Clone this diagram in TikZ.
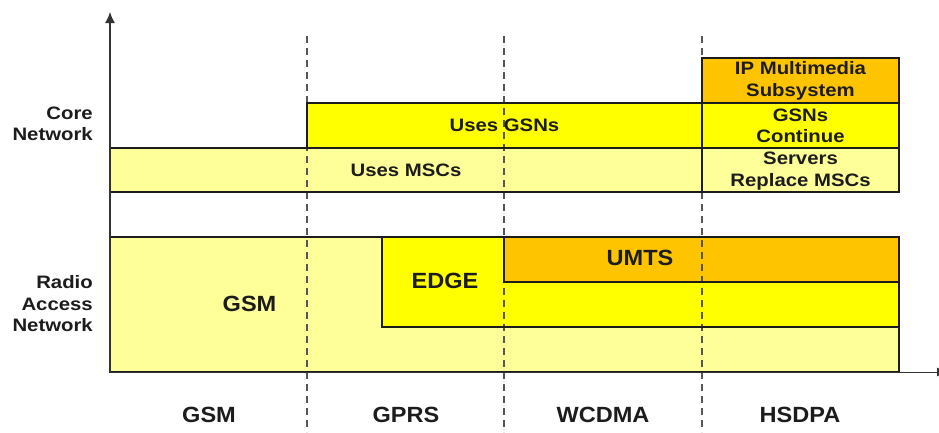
\documentclass[tikz,border=0pt]{standalone}
\usepackage{fontspec}
\setmainfont{Liberation Sans}[FakeStretch=1.07]
\newfontfamily\narrowlabel{Liberation Sans}[FakeStretch=1.13]
\usetikzlibrary{arrows.meta}

\definecolor{paleyellow}{HTML}{FFFF99}
\definecolor{brightyellow}{HTML}{FFFF00}
\definecolor{amber}{HTML}{FFC400}
\definecolor{inkdark}{HTML}{1C1C1C}
\definecolor{axisgray}{HTML}{333333}
\definecolor{dashgray}{HTML}{555555}

\begin{document}
\begin{tikzpicture}[x=1pt,y=-1pt,
  band/.style={anchor=north west, inner sep=0pt, outer sep=0pt, draw=none},
  boxline/.style={draw=inkdark, line width=1.5pt},
  era/.style={draw=dashgray, line width=1.2pt, dash pattern=on 7pt off 5pt},
  axisline/.style={draw=axisgray, line width=1.3pt},
  lbl/.style={inner sep=0pt, text=inkdark, align=center,
    font=\narrowlabel\bfseries\fontsize{18}{21.5}\selectfont},
  sidelbl/.style={inner sep=0pt, text=inkdark, align=right, anchor=east,
    font=\narrowlabel\bfseries\fontsize{18}{21.5}\selectfont},
  biglbl/.style={inner sep=0pt, text=inkdark,
    font=\bfseries\fontsize{22}{26}\selectfont},
]
% canvas
\path[use as bounding box, fill=white] (0,0) rectangle (939,432);

% core network bands
\node[band, fill=paleyellow,   minimum width=592pt, minimum height=44pt] (msc)     at (110,148) {};
\node[band, fill=brightyellow, minimum width=395pt, minimum height=45pt] (gsn)     at (307,103) {};
\node[band, fill=amber,        minimum width=197pt, minimum height=45pt] (ims)     at (702,58)  {};
\node[band, fill=brightyellow, minimum width=197pt, minimum height=45pt] (gsncont) at (702,103) {};
\node[band, fill=paleyellow,   minimum width=197pt, minimum height=44pt] (servers) at (702,148) {};

% radio access network bands
\node[band, fill=paleyellow,   minimum width=789pt, minimum height=135pt] (gsmran) at (110,237) {};
\node[band, fill=brightyellow, minimum width=517pt, minimum height=90pt]  (edge)   at (382,237) {};
\node[band, fill=amber,        minimum width=395pt, minimum height=45pt]  (umts)   at (504,237) {};

% generation boundaries
\coordinate (sepAtop) at (307,36);  \coordinate (sepAbot) at (307,432);
\coordinate (sepBtop) at (504,36);  \coordinate (sepBbot) at (504,432);
\coordinate (sepCtop) at (702,36);  \coordinate (sepCbot) at (702,432);
\draw[era] (sepAtop) -- (sepAbot);
\draw[era] (sepBtop) -- (sepBbot);
\draw[era] (sepCtop) -- (sepCbot);

% band outlines on top of the boundaries
\foreach \b in {msc,gsn,ims,gsncont,servers,gsmran,edge,umts}
  \draw[boxline] (\b.south west) rectangle (\b.north east);

% axes (the time axis runs off the right edge)
\coordinate (origin) at (110,372);
\coordinate (ytip)   at (110,12);
\coordinate (xtip)   at (948,372);
\draw[axisline, -{Latex[length=11pt,width=10pt]}] (origin) -- (ytip);
\draw[axisline, line width=1pt, -{Latex[length=11pt,width=9pt]}] (origin) -- (xtip);

% side labels
\node[sidelbl] (corelbl) at (93,124) {Core\\Network};
\node[sidelbl] (ranlbl)  at (93,304) {Radio\\Access\\Network};

% core labels
\node[lbl] (tgsn)  at (504.5,125) {Uses GSNs};
\node[lbl] (tmsc)  at (406,170)   {Uses MSCs};
\node[lbl] (tims)  at (800.5,81)  {IP Multimedia\\Subsystem};
\node[lbl] (tcont) at (800.5,126) {GSNs\\Continue};
\node[lbl] (tserv) at (800.5,171) {Servers\\Replace MSCs};

% radio labels
\node[biglbl] (tgsm)  at (249.5,304) {GSM};
\node[biglbl] (tedge) at (445,281)   {EDGE};
\node[biglbl] (tumts) at (640,258)   {UMTS};

% generation names
\node[biglbl] (ggsm)   at (209,415) {GSM};
\node[biglbl] (ggprs)  at (406,415) {GPRS};
\node[biglbl] (gwcdma) at (603,415) {WCDMA};
\node[biglbl] (ghsdpa) at (800,415) {HSDPA};
\end{tikzpicture}
\end{document}
